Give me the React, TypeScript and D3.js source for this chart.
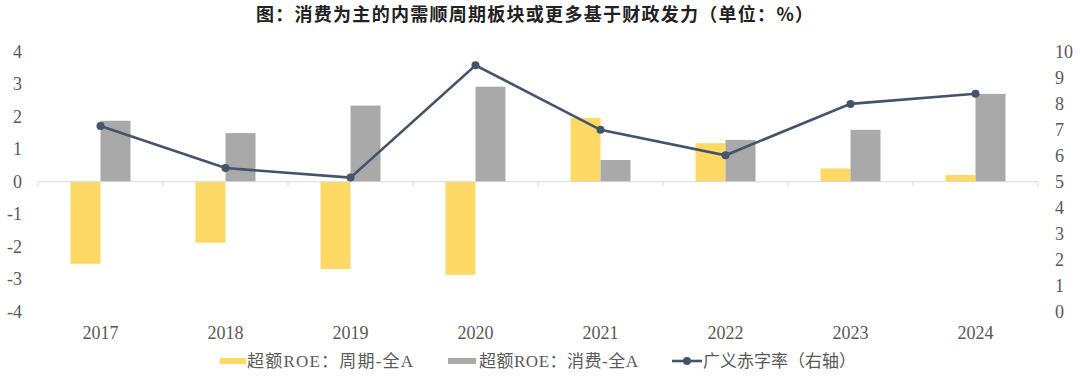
import React from "react";
import * as d3 from "d3";

const years = ["2017", "2018", "2019", "2020", "2021", "2022", "2023", "2024"];
const cyclical = [-2.53, -1.88, -2.69, -2.87, 1.97, 1.19, 0.41, 0.21];
const consumer = [1.88, 1.5, 2.35, 2.93, 0.67, 1.29, 1.6, 2.71];
const deficit = [7.15, 5.53, 5.16, 9.49, 7.0, 6.02, 8.0, 8.39];
const leftTicks = [4, 3, 2, 1, 0, -1, -2, -3, -4];
const rightTicks = [10, 9, 8, 7, 6, 5, 4, 3, 2, 1, 0];

const title = "图：消费为主的内需顺周期板块或更多基于财政发力（单位：%）";
const legendLabels = ["超额ROE：周期-全A", "超额ROE：消费-全A", "广义赤字率（右轴）"];

const YELLOW = "#FFD966";
const GRAY = "#A9A9A9";
const LINE = "#44546A";
const TEXT = "#595959";
const AXIS = "#D9D9D9";

export default function App() {
  const W = 1080;
  const H = 381;
  const x = d3.scaleBand<string>().domain(years).range([38, 1038]).paddingInner(0).paddingOuter(0);
  const inner = d3.scaleBand<string>().domain(["c", "s"]).range([0, 60]);
  const yL = d3.scaleLinear().domain([-4, 4]).range([311.5, 52]);
  const yR = d3.scaleLinear().domain([0, 10]).range([311.5, 52]);
  const center = (y: string) => (x(y) as number) + x.bandwidth() / 2;
  const line = d3
    .line<number>()
    .x((_, i) => center(years[i]))
    .y((d) => yR(d));

  const serif = "'Liberation Serif', 'Noto Sans CJK SC', serif";
  const zeroY = yL(0);
  const boundaries = years.map((y) => x(y) as number).concat([1038]);

  return (
    <svg
      width={W}
      height={H}
      style={{ position: "absolute", left: 0, top: 0, background: "#fff" }}
      xmlns="http://www.w3.org/2000/svg"
    >
      <rect width={W} height={H} fill="#fff" />
      <text
        x={256}
        y={21}
        textAnchor="start"
        fontFamily="'Noto Sans CJK SC', sans-serif"
        fontWeight="bold"
        fontSize={18}
        textLength={557}
        lengthAdjust="spacing"
        fill="#222"
      >
        {title}
      </text>

      {/* bars */}
      {years.map((y, i) => {
        const cx = center(y) - 30;
        const v1 = cyclical[i];
        const v2 = consumer[i];
        return (
          <g key={y}>
            <rect
              x={cx + (inner("c") as number)}
              width={inner.bandwidth()}
              y={Math.min(yL(v1), zeroY)}
              height={Math.abs(yL(v1) - zeroY)}
              fill={YELLOW}
            />
            <rect
              x={cx + (inner("s") as number)}
              width={inner.bandwidth()}
              y={Math.min(yL(v2), zeroY)}
              height={Math.abs(yL(v2) - zeroY)}
              fill={GRAY}
            />
          </g>
        );
      })}

      {/* zero axis */}
      <line x1={38} x2={1038} y1={zeroY} y2={zeroY} stroke={AXIS} strokeWidth={1.2} />
      {boundaries.map((bx, i) => (
        <line key={i} x1={bx} x2={bx} y1={zeroY} y2={zeroY + 5} stroke={AXIS} strokeWidth={1} />
      ))}

      {/* line */}
      <path d={line(deficit) || ""} fill="none" stroke={LINE} strokeWidth={2.6} />
      {deficit.map((v, i) => (
        <circle key={i} cx={center(years[i])} cy={yR(v)} r={4} fill={LINE} />
      ))}

      {/* left ticks */}
      {leftTicks.map((t) => (
        <text
          key={t}
          x={22}
          y={yL(t)}
          textAnchor="end"
          dominantBaseline="central"
          fontFamily={serif}
          fontSize={18}
          fill={TEXT}
        >
          {t}
        </text>
      ))}
      {/* right ticks */}
      {rightTicks.map((t) => (
        <text
          key={t}
          x={1055}
          y={yR(t)}
          textAnchor="start"
          dominantBaseline="central"
          fontFamily={serif}
          fontSize={18}
          fill={TEXT}
        >
          {t}
        </text>
      ))}
      {/* year labels */}
      {years.map((y) => (
        <text
          key={y}
          x={center(y)}
          y={339}
          textAnchor="middle"
          fontFamily={serif}
          fontSize={18}
          fill={TEXT}
        >
          {y}
        </text>
      ))}

      {/* legend */}
      <g fontFamily={serif} fontSize={17} fill={TEXT}>
        <rect x={220} y={358} width={26} height={6} fill={YELLOW} />
        <text x={247} y={361} dominantBaseline="central" textLength={166} lengthAdjust="spacing">
          {legendLabels[0]}
        </text>
        <rect x={448} y={358} width={28} height={6} fill={GRAY} />
        <text x={479} y={361} dominantBaseline="central" textLength={159} lengthAdjust="spacing">
          {legendLabels[1]}
        </text>
        <line x1={672} x2={702} y1={361} y2={361} stroke={LINE} strokeWidth={2.6} />
        <circle cx={687} cy={361} r={4} fill={LINE} />
        <text x={703} y={361} dominantBaseline="central">
          {legendLabels[2]}
        </text>
      </g>
    </svg>
  );
}
